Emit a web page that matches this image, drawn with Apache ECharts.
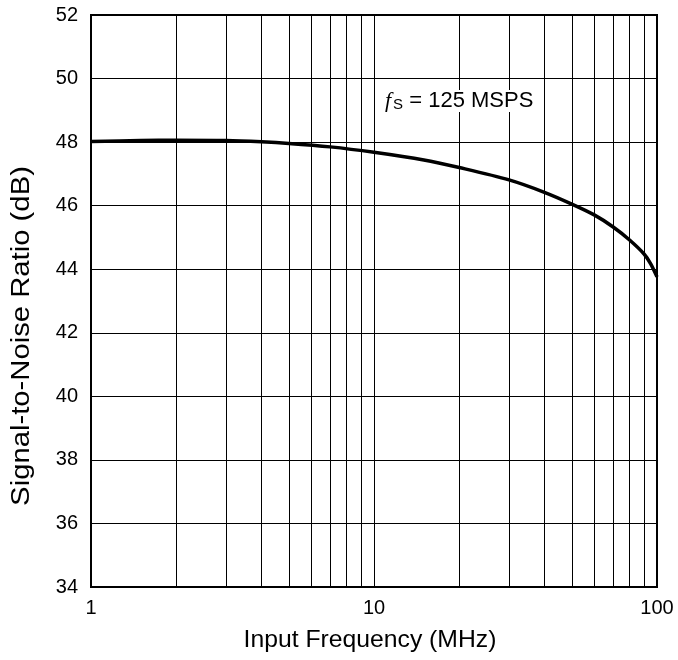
<!DOCTYPE html>
<html>
<head>
<meta charset="utf-8">
<script src="https://cdn.jsdelivr.net/npm/echarts@6/dist/echarts.min.js"></script>
<style>html,body{margin:0;padding:0;background:#fff;}#c{width:678px;height:660px;}</style>
</head>
<body>
<div id="c"></div>
<script>
const freqMHz = [1, 1.5, 2, 3, 4, 5, 7, 10, 15, 20, 30, 40, 50, 60, 70, 80, 90, 95, 100];
const snrDb = [48.02, 48.05, 48.06, 48.05, 48.01, 47.96, 47.85, 47.68, 47.44, 47.2, 46.81, 46.42, 46.05, 45.71, 45.33, 44.92, 44.48, 44.17, 43.76];
const minorGridX = [2, 3, 4, 5, 6, 7, 8, 9, 20, 30, 40, 50, 60, 70, 80, 90];
const xTickLabels = [1, 10, 100];
const yTicks = [34, 36, 38, 40, 42, 44, 46, 48, 50, 52];
const xTitle = 'Input Frequency (MHz)';
const yTitle = 'Signal-to-Noise Ratio (dB)';

const chart = echarts.init(document.getElementById('c'));
const font = 'Liberation Sans, Arial, sans-serif';
chart.setOption({
  animation: false,
  backgroundColor: '#fff',
  grid: { left: 91, right: 21, top: 15, bottom: 73, show: true, borderColor: '#000', borderWidth: 2, backgroundColor: 'transparent' },
  xAxis: {
    type: 'log', logBase: 10, min: 1, max: 100,
    axisLine: { show: true, lineStyle: { color: '#000', width: 2 } },
    axisTick: { show: false },
    axisLabel: { fontSize: 20, color: '#000', fontFamily: font, margin: 11,
      formatter: v => (xTickLabels.indexOf(Math.round(v)) >= 0 ? String(Math.round(v)) : '') },
    splitLine: { show: true, lineStyle: { color: '#000', width: 1 } }
  },
  yAxis: {
    type: 'value', min: 34, max: 52, interval: 2,
    axisLine: { show: true, lineStyle: { color: '#000', width: 2 } },
    axisTick: { show: false },
    axisLabel: { fontSize: 20, color: '#000', fontFamily: font, margin: 13,
      formatter: v => (yTicks.indexOf(v) >= 0 ? String(v) : '') },
    splitLine: { show: true, lineStyle: { color: '#000', width: 1 } }
  },
  graphic: [
    {
      type: 'text', x: 370, y: 640, z: 100, scaleX: 1.03,
      style: { text: xTitle, fontSize: 24, fontFamily: font, fill: '#000', align: 'center', verticalAlign: 'middle' }
    },
    {
      type: 'text', x: 22, y: 336, rotation: Math.PI / 2, scaleX: 1.17, z: 100,
      style: { text: yTitle, fontSize: 25, fontFamily: font, fill: '#000', align: 'center', verticalAlign: 'middle' }
    },
    {
      type: 'text', left: 383, top: 90, z: 100,
      style: {
        text: '{f|f}{s|S}{t| = 125 MSPS}',
        backgroundColor: '#fff', padding: [0, 2],
        rich: {
          f: { fontSize: 22, fontStyle: 'italic', fontFamily: 'Liberation Serif, Times New Roman, serif', fill: '#000', lineHeight: 22 },
          s: { fontSize: 15, fontFamily: font, fill: '#000', verticalAlign: 'bottom', padding: [0, 0, 0, 2] },
          t: { fontSize: 22, fontFamily: font, fill: '#000', lineHeight: 22 }
        }
      }
    }
  ],
  series: [
    {
      type: 'line', data: [], silent: true,
      markLine: {
        silent: true, symbol: 'none', label: { show: false },
        lineStyle: { color: '#000', width: 1, type: 'solid' },
        data: minorGridX.map(v => ({ xAxis: v }))
      }
    },
    {
      type: 'line', smooth: 0.3, showSymbol: false, symbol: 'none',
      data: freqMHz.map((f, i) => [f, snrDb[i]]),
      lineStyle: { color: '#000', width: 3.5 }, z: 10
    }
  ]
});
</script>
</body>
</html>
